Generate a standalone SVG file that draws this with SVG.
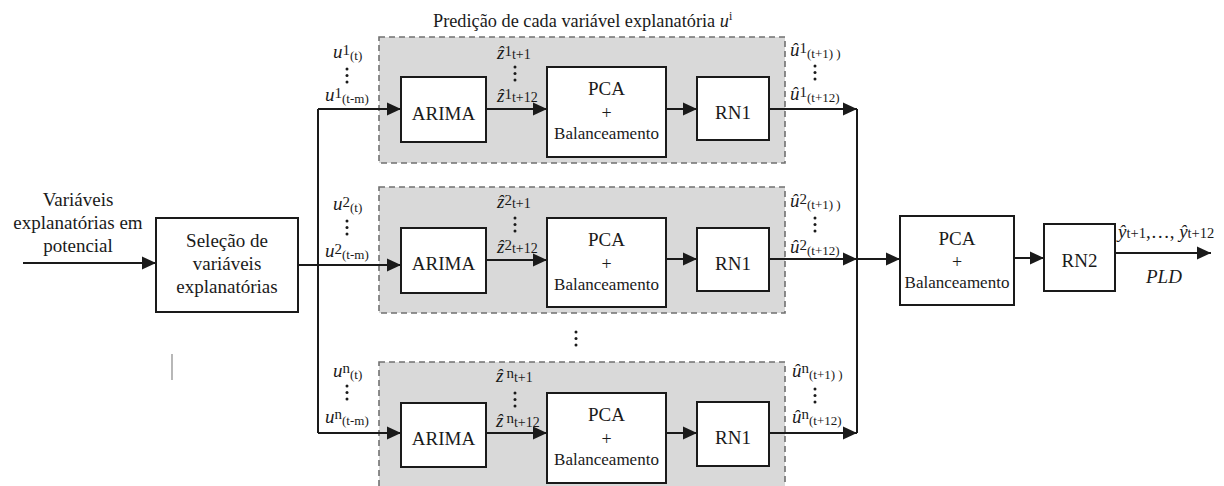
<svg xmlns="http://www.w3.org/2000/svg" width="1224" height="486" viewBox="0 0 1224 486">
<style>
.panel{fill:#d9d9d9;stroke:#707070;stroke-width:1.6;stroke-dasharray:6 4}
.box{fill:#fff;stroke:#1a1a1a;stroke-width:2}
.ln{fill:none;stroke:#1a1a1a;stroke-width:2}
.ar{marker-end:url(#ah)}
text{font-family:"Liberation Serif","Times New Roman","DejaVu Serif",serif;fill:#1a1a1a}
.m{font-size:19px}
.c{text-anchor:middle}
.s{font-size:17px}
.p{font-size:18px}
.i{font-style:italic}
.dot{fill:#1a1a1a}
</style>
<defs>
<marker id="ah" markerUnits="userSpaceOnUse" markerWidth="14" markerHeight="14" refX="14" refY="7" orient="auto">
<path d="M0,0.5 L14,7 L0,13.5 z" fill="#1a1a1a"/>
</marker>
<g id="vd"><circle cx="0" cy="0" r="1.5"/><circle cx="0" cy="6.5" r="1.5"/><circle cx="0" cy="13" r="1.5"/></g>
</defs>
<rect width="1224" height="486" fill="#fff"/>

<g id="panels">
<rect class="panel" x="379" y="37" width="406" height="126"/>
<rect class="panel" x="379" y="187" width="406" height="126"/>
<rect class="panel" x="379" y="362" width="406" height="126"/>
<text x="433" y="27" font-size="18.3">Predição de cada variável explanatória <tspan class="i">u</tspan><tspan font-size="12" dy="-7">i</tspan></text>
</g>

<g id="connectors">
<path class="ln ar" d="M23,263 H156"/>
<path class="ln ar" d="M298,265 H401"/>
<path class="ln" d="M318,109 V433"/>
<path class="ln ar" d="M318,109 H401"/>
<path class="ln ar" d="M318,433 H401"/>
<path class="ln ar" d="M486,109 H547"/>
<path class="ln ar" d="M486,260 H547"/>
<path class="ln ar" d="M486,433 H547"/>
<path class="ln ar" d="M666,109 H697"/>
<path class="ln ar" d="M666,259 H697"/>
<path class="ln ar" d="M666,433 H697"/>
<path class="ln ar" d="M769,109 H857"/>
<path class="ln ar" d="M769,259 H857"/>
<path class="ln ar" d="M769,433 H857"/>
<path class="ln" d="M857,109 V433"/>
<path class="ln ar" d="M857,259 H900"/>
<path class="ln ar" d="M1014,258 H1044"/>
<path class="ln ar" d="M1115,253 H1211"/>
<line x1="172" y1="354" x2="172" y2="380" stroke="#888" stroke-width="1.2"/>
</g>

<g id="input-label">
<text class="m c" x="78" y="206">Variáveis</text>
<text class="m c" x="78" y="229">explanatórias em</text>
<text class="m c" x="78" y="252">potencial</text>
</g>

<g id="selecao">
<rect class="box" x="156" y="218" width="142" height="94"/>
<text class="m c" x="227" y="247">Seleção de</text>
<text class="m c" x="227" y="270">variáveis</text>
<text class="m c" x="227" y="293">explanatórias</text>
</g>

<!-- Row 1 -->
<g id="row1-labels">
<text x="333" y="58"><tspan class="m i">u</tspan><tspan font-size="15" dy="-3">1</tspan><tspan font-size="13" dy="5">(t)</tspan></text>
<use href="#vd" x="347" y="69" class="dot"/>
<text x="325" y="101"><tspan class="m i">u</tspan><tspan font-size="15" dy="-3">1</tspan><tspan font-size="13" dy="5">(t-m)</tspan></text>
<text x="497" y="59"><tspan class="m i">ẑ</tspan><tspan font-size="15" dy="-3">1</tspan><tspan font-size="14" dy="3">t+1</tspan></text>
<use href="#vd" x="515" y="67" class="dot"/>
<text x="497" y="102"><tspan class="m i">ẑ</tspan><tspan font-size="15" dy="-3">1</tspan><tspan font-size="14" dy="3">t+12</tspan></text>
<text x="790" y="56"><tspan class="m i">û</tspan><tspan font-size="15" dy="-3">1</tspan><tspan font-size="13" dy="5">(t+1) )</tspan></text>
<use href="#vd" x="815" y="66" class="dot"/>
<text x="790" y="100"><tspan class="m i">û</tspan><tspan font-size="15" dy="-3">1</tspan><tspan font-size="13" dy="5">(t+12)</tspan></text>
</g>
<g id="arima1"><rect class="box" x="401" y="77" width="85" height="65"/><text class="m c" x="443.5" y="120">ARIMA</text></g>
<g id="pca1"><rect class="box" x="547" y="67" width="119" height="90"/><text class="m c" x="606.5" y="95">PCA</text><text class="p c" x="606.5" y="119">+</text><text class="s c" x="606.5" y="139">Balanceamento</text></g>
<g id="rn1-1"><rect class="box" x="697" y="77" width="72" height="63"/><text class="m c" x="733" y="119">RN1</text></g>

<!-- Row 2 -->
<g id="row2-labels">
<text x="333" y="210"><tspan class="m i">u</tspan><tspan font-size="15" dy="-3">2</tspan><tspan font-size="13" dy="5">(t)</tspan></text>
<use href="#vd" x="347" y="221" class="dot"/>
<text x="325" y="257"><tspan class="m i">u</tspan><tspan font-size="15" dy="-3">2</tspan><tspan font-size="13" dy="5">(t-m)</tspan></text>
<text x="497" y="208"><tspan class="m i">ẑ</tspan><tspan font-size="15" dy="-3">2</tspan><tspan font-size="14" dy="3">t+1</tspan></text>
<use href="#vd" x="515" y="218" class="dot"/>
<text x="497" y="253"><tspan class="m i">ẑ</tspan><tspan font-size="15" dy="-3">2</tspan><tspan font-size="14" dy="3">t+12</tspan></text>
<text x="790" y="207"><tspan class="m i">û</tspan><tspan font-size="15" dy="-3">2</tspan><tspan font-size="13" dy="5">(t+1) )</tspan></text>
<use href="#vd" x="815" y="218" class="dot"/>
<text x="790" y="253"><tspan class="m i">û</tspan><tspan font-size="15" dy="-3">2</tspan><tspan font-size="13" dy="5">(t+12)</tspan></text>
</g>
<g id="arima2"><rect class="box" x="401" y="228" width="85" height="65"/><text class="m c" x="443.5" y="270">ARIMA</text></g>
<g id="pca2"><rect class="box" x="547" y="218" width="119" height="89"/><text class="m c" x="606.5" y="246">PCA</text><text class="p c" x="606.5" y="270">+</text><text class="s c" x="606.5" y="290">Balanceamento</text></g>
<g id="rn1-2"><rect class="box" x="697" y="228" width="72" height="63"/><text class="m c" x="733" y="270">RN1</text></g>

<g id="ellipsis"><use href="#vd" x="576" y="332" class="dot"/></g>

<!-- Row 3 -->
<g id="row3-labels">
<text x="333" y="377"><tspan class="m i">u</tspan><tspan font-size="15" dy="-4">n</tspan><tspan font-size="13" dy="6">(t)</tspan></text>
<use href="#vd" x="347" y="386" class="dot"/>
<text x="325" y="423"><tspan class="m i">u</tspan><tspan font-size="15" dy="-4">n</tspan><tspan font-size="13" dy="6">(t-m)</tspan></text>
<text x="496" y="382"><tspan class="m i">ẑ</tspan><tspan font-size="15" dx="3" dy="-4">n</tspan><tspan font-size="14" dy="4">t+1</tspan></text>
<use href="#vd" x="515" y="393" class="dot"/>
<text x="496" y="427"><tspan class="m i">ẑ</tspan><tspan font-size="15" dx="3" dy="-4">n</tspan><tspan font-size="14" dy="4">t+12</tspan></text>
<text x="792" y="377"><tspan class="m i">û</tspan><tspan font-size="15" dy="-4">n</tspan><tspan font-size="13" dy="6">(t+1) )</tspan></text>
<use href="#vd" x="815" y="389" class="dot"/>
<text x="792" y="423"><tspan class="m i">û</tspan><tspan font-size="15" dy="-4">n</tspan><tspan font-size="13" dy="6">(t+12)</tspan></text>
</g>
<g id="arima3"><rect class="box" x="401" y="403" width="85" height="64"/><text class="m c" x="443.5" y="445">ARIMA</text></g>
<g id="pca3"><rect class="box" x="547" y="393" width="119" height="90"/><text class="m c" x="606.5" y="421">PCA</text><text class="p c" x="606.5" y="445">+</text><text class="s c" x="606.5" y="465">Balanceamento</text></g>
<g id="rn1-3"><rect class="box" x="697" y="402" width="72" height="64"/><text class="m c" x="733" y="444">RN1</text></g>

<!-- Final stage -->
<g id="pca-final"><rect class="box" x="900" y="216" width="114" height="89"/><text class="m c" x="957" y="245">PCA</text><text class="p c" x="957" y="268">+</text><text class="s c" x="957" y="288">Balanceamento</text></g>
<g id="rn2"><rect class="box" x="1044" y="224" width="71" height="67"/><text class="m c" x="1079.5" y="267">RN2</text></g>
<g id="output-label">
<text x="1118" y="238"><tspan class="m i">ŷ</tspan><tspan font-size="14.5">t+1</tspan><tspan font-size="19">,…, </tspan><tspan class="m i">ŷ</tspan><tspan font-size="14.5">t+12</tspan></text>
<text class="m i" x="1146" y="283">PLD</text>
</g>
</svg>
